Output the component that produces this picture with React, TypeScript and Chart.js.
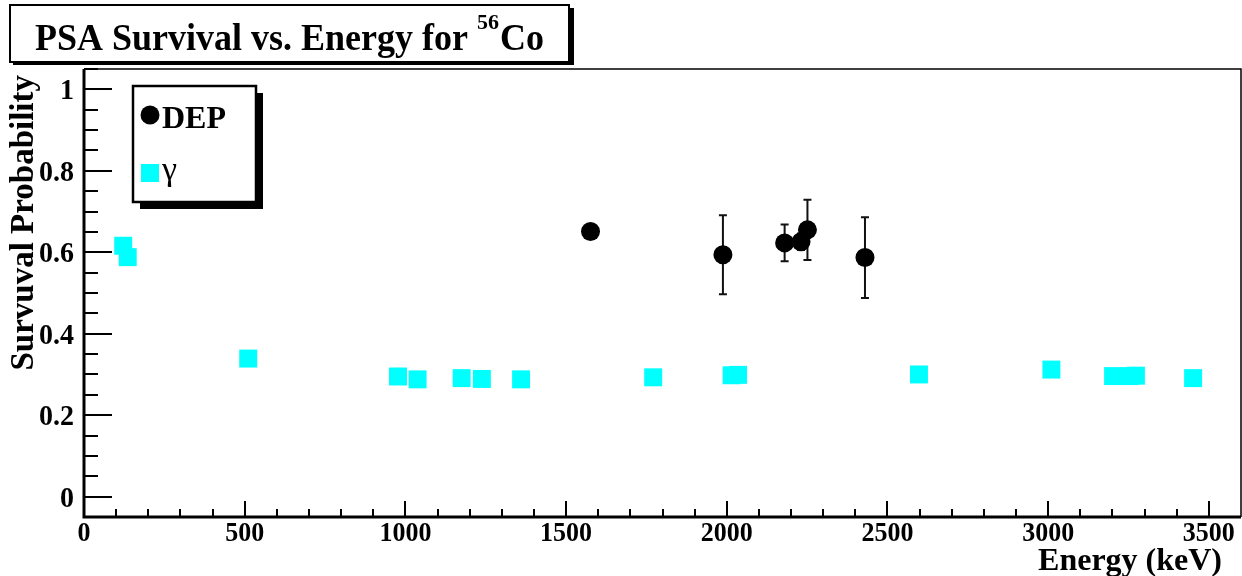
import React, { useEffect, useRef } from "react";
import { Chart, registerables } from "chart.js";

Chart.register(...registerables);

// ---- data ----
const gammaEnergies = [122, 136, 511, 977, 1038, 1175, 1238, 1360, 1771, 2015, 2035, 2598, 3010, 3202, 3253, 3273, 3451];
const gammaSurvival = [0.616, 0.588, 0.339, 0.295, 0.288, 0.291, 0.289, 0.288, 0.293, 0.298, 0.299, 0.3, 0.312, 0.296, 0.296, 0.297, 0.291];

const depEnergies = [1576, 1988, 2180, 2231, 2251, 2430];
const depSurvival = [0.651, 0.594, 0.623, 0.626, 0.655, 0.587];
const depErrors = [0.01, 0.097, 0.045, 0.02, 0.074, 0.099];

const xTickValues = [0, 500, 1000, 1500, 2000, 2500, 3000, 3500];
const xTickLabels = ["0", "500", "1000", "1500", "2000", "2500", "3000", "3500"];
const yTickValues = [0, 0.2, 0.4, 0.6, 0.8, 1];
const yTickLabels = ["0", "0.2", "0.4", "0.6", "0.8", "1"];

const X_MIN = 0;
const X_MAX = 3600;
const Y_MIN = -0.05;
const Y_MAX = 1.05;
const X_MINOR_STEP = 100;
const Y_MINOR_STEP = 0.05;

const titleMain = "PSA Survival vs. Energy for";
const titleSup = "56";
const titleEnd = "Co";
const xTitle = "Energy (keV)";
const yTitle = "Survuval Probability";
const depLabel = "DEP";
const gammaLabel = "γ";

const SERIF = '"Liberation Serif", "Times New Roman", serif';
const CYAN = "#00ffff";
const X_TICK_FONT = `bold 26px ${SERIF}`;
const Y_TICK_FONT = `bold 28px ${SERIF}`;
const TICK_STRETCH = 1.08;

function stretchedText(ctx: CanvasRenderingContext2D, text: string, x: number, y: number, sy: number) {
  ctx.save();
  ctx.translate(x, y);
  ctx.scale(1, sy);
  ctx.fillText(text, 0, 0);
  ctx.restore();
}

const decorPlugin = {
  id: "rootDecor",
  beforeDatasetsDraw(chart: any) {
    const ctx = chart.ctx;
    const xs = chart.scales.x;
    const ys = chart.scales.y;
    ctx.save();
    ctx.strokeStyle = "#111";
    ctx.lineWidth = 2;
    depEnergies.forEach((e, i) => {
      const err = depErrors[i];
      const px = xs.getPixelForValue(e);
      const top = ys.getPixelForValue(depSurvival[i] + err);
      const bot = ys.getPixelForValue(depSurvival[i] - err);
      ctx.beginPath();
      ctx.moveTo(px, top);
      ctx.lineTo(px, bot);
      ctx.moveTo(px - 4, top);
      ctx.lineTo(px + 4, top);
      ctx.moveTo(px - 4, bot);
      ctx.lineTo(px + 4, bot);
      ctx.stroke();
    });
    ctx.restore();
  },
  afterDraw(chart: any) {
    const ctx = chart.ctx;
    const { left, right, top, bottom } = chart.chartArea;
    const xs = chart.scales.x;
    const ys = chart.scales.y;
    ctx.save();

    // frame
    ctx.strokeStyle = "#000";
    ctx.lineWidth = 1.5;
    ctx.beginPath();
    ctx.moveTo(left, top);
    ctx.lineTo(right, top);
    ctx.lineTo(right, bottom);
    ctx.stroke();
    ctx.lineWidth = 3;
    ctx.beginPath();
    ctx.moveTo(left, top);
    ctx.lineTo(left, bottom);
    ctx.lineTo(right, bottom);
    ctx.stroke();

    // y ticks (inside)
    ctx.lineWidth = 2;
    ctx.beginPath();
    for (let k = 0; k * Y_MINOR_STEP <= Y_MAX + 1e-9; k++) {
      const v = k * Y_MINOR_STEP;
      const py = Math.round(ys.getPixelForValue(v));
      const major = k % 4 === 0;
      ctx.moveTo(left, py);
      ctx.lineTo(left + (major ? 28 : 14), py);
    }
    ctx.stroke();

    // x ticks (inside)
    ctx.beginPath();
    for (let k = 1; k * X_MINOR_STEP < X_MAX; k++) {
      const v = k * X_MINOR_STEP;
      const px = Math.round(xs.getPixelForValue(v));
      const major = k % 5 === 0;
      ctx.moveTo(px, bottom);
      ctx.lineTo(px, bottom - (major ? 16 : 8));
    }
    ctx.stroke();

    // tick labels
    ctx.fillStyle = "#000";
    ctx.textBaseline = "alphabetic";
    ctx.font = X_TICK_FONT;
    ctx.textAlign = "center";
    xTickValues.forEach((v, i) => {
      stretchedText(ctx, xTickLabels[i], xs.getPixelForValue(v), bottom + 24, TICK_STRETCH);
    });
    ctx.font = Y_TICK_FONT;
    ctx.textAlign = "right";
    yTickValues.forEach((v, i) => {
      stretchedText(ctx, yTickLabels[i], left - 10, ys.getPixelForValue(v) + 10, TICK_STRETCH);
    });

    // title box
    ctx.fillStyle = "#000";
    ctx.fillRect(13, 8, 561, 57);
    ctx.fillStyle = "#fff";
    ctx.fillRect(10, 5, 560, 57);
    ctx.strokeStyle = "#000";
    ctx.lineWidth = 2;
    ctx.strokeRect(10, 5, 559, 57);
    ctx.fillStyle = "#000";
    ctx.textAlign = "left";
    ctx.font = `bold 36px ${SERIF}`;
    const wMain = ctx.measureText(titleMain).width;
    const wEnd = ctx.measureText(titleEnd).width;
    ctx.font = `bold 22px ${SERIF}`;
    const wSup = ctx.measureText(titleSup).width;
    const gap = 9;
    const total = wMain + gap + wSup + 1 + wEnd;
    const x0 = 289.5 - total / 2;
    ctx.font = `bold 36px ${SERIF}`;
    stretchedText(ctx, titleMain, x0, 50, 1.04);
    stretchedText(ctx, titleEnd, x0 + wMain + gap + wSup + 1, 50, 1.04);
    ctx.font = `bold 22px ${SERIF}`;
    ctx.fillText(titleSup, x0 + wMain + gap, 29);

    // legend box
    ctx.fillStyle = "#000";
    ctx.fillRect(140, 93, 123, 116);
    ctx.fillStyle = "#fff";
    ctx.fillRect(133, 86, 123, 116);
    ctx.strokeStyle = "#000";
    ctx.lineWidth = 2.5;
    ctx.strokeRect(133, 86, 123, 116);
    ctx.fillStyle = "#000";
    ctx.beginPath();
    ctx.arc(150, 115, 9.5, 0, Math.PI * 2);
    ctx.fill();
    ctx.textAlign = "left";
    ctx.font = `bold 32px ${SERIF}`;
    ctx.fillText(depLabel, 162, 128);
    ctx.fillStyle = CYAN;
    ctx.fillRect(141, 164, 18, 18);
    ctx.fillStyle = "#000";
    ctx.font = `34px ${SERIF}`;
    ctx.fillText(gammaLabel, 162, 180);

    // axis titles
    ctx.font = `bold 32px ${SERIF}`;
    ctx.textAlign = "right";
    ctx.fillText(xTitle, 1222, 570);
    ctx.font = `bold 33px ${SERIF}`;
    ctx.save();
    ctx.translate(33, 75);
    ctx.rotate(-Math.PI / 2);
    ctx.textAlign = "right";
    ctx.fillText(yTitle, 0, 0);
    ctx.restore();

    ctx.restore();
  },
};

export default function App() {
  const canvasRef = useRef<HTMLCanvasElement | null>(null);

  useEffect(() => {
    document.body.style.margin = "0";
    const canvas = canvasRef.current;
    if (!canvas) return;
    const chart = new Chart(canvas, {
      type: "scatter",
      data: {
        datasets: [
          {
            label: gammaLabel,
            data: gammaEnergies.map((x, i) => ({ x, y: gammaSurvival[i] })),
            pointStyle: "rect",
            pointRadius: 12.7,
            backgroundColor: CYAN,
            borderWidth: 0,
          },
          {
            label: depLabel,
            data: depEnergies.map((x, i) => ({ x, y: depSurvival[i] })),
            pointStyle: "circle",
            pointRadius: 9.5,
            backgroundColor: "#000",
            borderWidth: 0,
          },
        ],
      },
      options: {
        animation: false,
        responsive: false,
        maintainAspectRatio: false,
        devicePixelRatio: 1,
        layout: { autoPadding: false, padding: { left: 0, right: 1, top: 69, bottom: 0 } },
        plugins: {
          legend: { display: false },
          tooltip: { enabled: false },
          title: { display: false },
        },
        scales: {
          x: {
            type: "linear",
            min: X_MIN,
            max: X_MAX,
            grid: { display: false, drawTicks: false },
            border: { display: false },
            ticks: { display: false },
            afterFit: (s: any) => {
              s.height = 59;
            },
          },
          y: {
            type: "linear",
            min: Y_MIN,
            max: Y_MAX,
            grid: { display: false, drawTicks: false },
            border: { display: false },
            ticks: { display: false },
            afterFit: (s: any) => {
              s.width = 84;
            },
          },
        },
      },
      plugins: [decorPlugin],
    });
    return () => chart.destroy();
  }, []);

  return (
    <div style={{ position: "absolute", left: 0, top: 0, width: 1242, height: 576, background: "#fff" }}>
      <canvas ref={canvasRef} width={1242} height={576} style={{ display: "block", width: 1242, height: 576 }} />
    </div>
  );
}
